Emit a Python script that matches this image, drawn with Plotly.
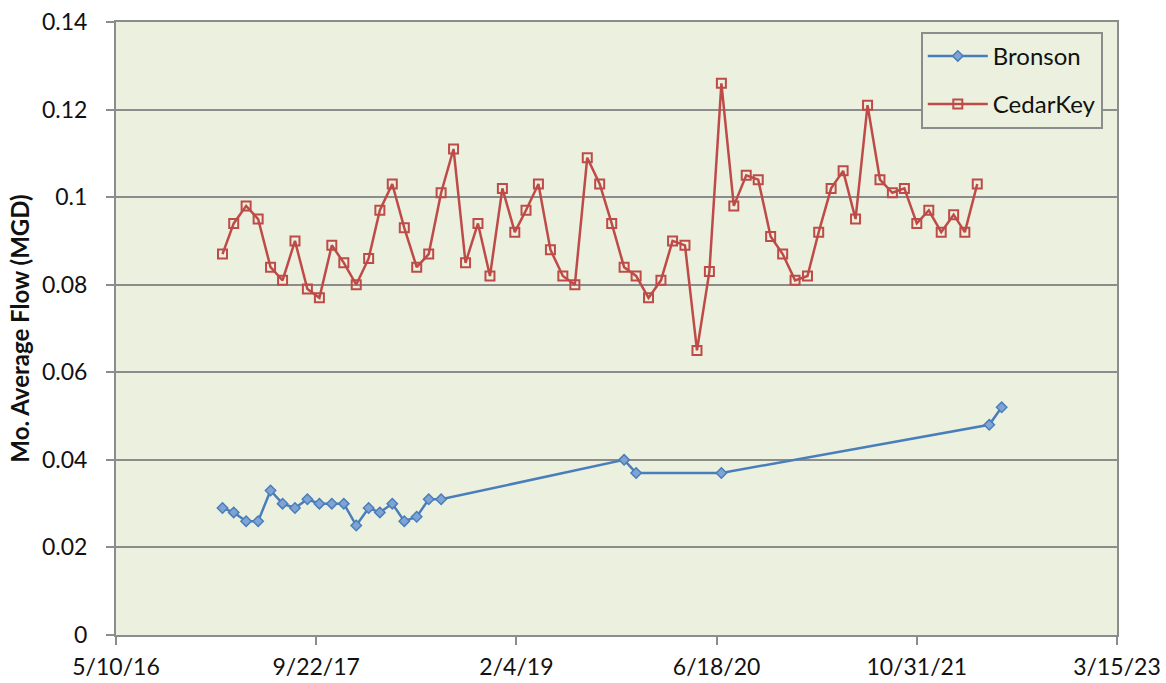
import plotly.graph_objects as go

# ---- data ----
cedar_dates = [
    "2017-01-31", "2017-02-28", "2017-03-31", "2017-04-30", "2017-05-31", "2017-06-30",
    "2017-07-31", "2017-08-31", "2017-09-30", "2017-10-31", "2017-11-30", "2017-12-31",
    "2018-01-31", "2018-02-28", "2018-03-31", "2018-04-30", "2018-05-31", "2018-06-30",
    "2018-07-31", "2018-08-31", "2018-09-30", "2018-10-31", "2018-11-30", "2018-12-31",
    "2019-01-31", "2019-02-28", "2019-03-31", "2019-04-30", "2019-05-31", "2019-06-30",
    "2019-07-31", "2019-08-31", "2019-09-30", "2019-10-31", "2019-11-30", "2019-12-31",
    "2020-01-31", "2020-02-29", "2020-03-31", "2020-04-30", "2020-05-31", "2020-06-30",
    "2020-07-31", "2020-08-31", "2020-09-30", "2020-10-31", "2020-11-30", "2020-12-31",
    "2021-01-31", "2021-02-28", "2021-03-31", "2021-04-30", "2021-05-31", "2021-06-30",
    "2021-07-31", "2021-08-31", "2021-09-30", "2021-10-31", "2021-11-30", "2021-12-31",
    "2022-01-31", "2022-02-28", "2022-03-31",
]
cedar_values = [
    0.087, 0.094, 0.098, 0.095, 0.084, 0.081, 0.090, 0.079, 0.077, 0.089, 0.085, 0.080,
    0.086, 0.097, 0.103, 0.093, 0.084, 0.087, 0.101, 0.111, 0.085, 0.094, 0.082, 0.102,
    0.092, 0.097, 0.103, 0.088, 0.082, 0.080, 0.109, 0.103, 0.094, 0.084, 0.082, 0.077,
    0.081, 0.090, 0.089, 0.065, 0.083, 0.126, 0.098, 0.105, 0.104, 0.091, 0.087, 0.081,
    0.082, 0.092, 0.102, 0.106, 0.095, 0.121, 0.104, 0.101, 0.102, 0.094, 0.097, 0.092,
    0.096, 0.092, 0.103,
]

bronson_dates = [
    "2017-01-31", "2017-02-28", "2017-03-31", "2017-04-30", "2017-05-31", "2017-06-30",
    "2017-07-31", "2017-08-31", "2017-09-30", "2017-10-31", "2017-11-30", "2017-12-31",
    "2018-01-31", "2018-02-28", "2018-03-31", "2018-04-30", "2018-05-31", "2018-06-30",
    "2018-07-31", "2019-10-31", "2019-11-30", "2020-06-30", "2022-04-30", "2022-05-31",
]
bronson_values = [
    0.029, 0.028, 0.026, 0.026, 0.033, 0.030, 0.029, 0.031, 0.030, 0.030, 0.030, 0.025,
    0.029, 0.028, 0.030, 0.026, 0.027, 0.031, 0.031, 0.040, 0.037, 0.037, 0.048, 0.052,
]

x_tick_vals = ["2016-05-10", "2017-09-22", "2019-02-04", "2020-06-18", "2021-10-31", "2023-03-15"]
x_tick_text = ["5/10/16", "9/22/17", "2/4/19", "6/18/20", "10/31/21", "3/15/23"]
y_tick_vals = [0, 0.02, 0.04, 0.06, 0.08, 0.10, 0.12, 0.14]
y_tick_text = ["0", "0.02", "0.04", "0.06", "0.08", "0.1", "0.12", "0.14"]

FONT = "Lato, 'Open Sans', sans-serif"
BG = "#EBF1DE"
GRID = "#8C8C8C"
BLUE = "#4A7EBB"
RED = "#BE4B48"

fig = go.Figure()
fig.add_trace(go.Scatter(
    x=bronson_dates, y=bronson_values, name="Bronson", mode="lines+markers",
    legendgroup="b",
    line=dict(color=BLUE, width=2.5),
    marker=dict(symbol="diamond", size=8, color="#7FA3D3", line=dict(color=BLUE, width=1.5)),
))
fig.add_trace(go.Scatter(
    x=cedar_dates, y=cedar_values, name="CedarKey", mode="lines+markers",
    legendgroup="c",
    line=dict(color=RED, width=2.5),
    marker=dict(symbol="square-open", size=9, color=RED, line=dict(color=RED, width=2)),
))

fig.update_layout(
    width=1166, height=683,
    margin=dict(l=116, r=49, t=22, b=48, autoexpand=False),
    paper_bgcolor="white",
    plot_bgcolor=BG,
    font=dict(family=FONT, size=23, color="#111111"),
    showlegend=True,
    legend=dict(
        x=0.804, y=0.984, xanchor="left", yanchor="top",
        bgcolor=BG, bordercolor="#8C8C8C", borderwidth=2,
        font=dict(family=FONT, size=24, color="#111111"),
        tracegroupgap=14,
        itemwidth=60,
    ),
    xaxis=dict(
        type="date",
        range=["2016-05-10", "2023-03-15"],
        tickmode="array", tickvals=x_tick_vals, ticktext=x_tick_text,
        showgrid=False, zeroline=False, automargin=False,
        showline=True, linecolor=GRID, linewidth=2, mirror=True,
        ticks="outside", ticklen=8, tickcolor=GRID, tickwidth=2,
        tickfont=dict(family=FONT, size=23),
        ticklabelstandoff=2,
    ),
    yaxis=dict(
        range=[0, 0.14],
        tickmode="array", tickvals=y_tick_vals, ticktext=y_tick_text,
        showgrid=True, gridcolor=GRID, gridwidth=2, zeroline=False, automargin=False,
        showline=True, linecolor=GRID, linewidth=2, mirror=True,
        ticks="outside", ticklen=8, tickcolor=GRID, tickwidth=2,
        tickfont=dict(family=FONT, size=23),
        ticklabelstandoff=14,
        title=dict(text="<b>Mo. Average Flow (MGD)</b>", font=dict(family=FONT, size=24), standoff=6),
    ),
)

fig.write_html("out.html", config={"displayModeBar": False},
               post_script="document.body.style.margin='0';document.body.style.padding='0';")
